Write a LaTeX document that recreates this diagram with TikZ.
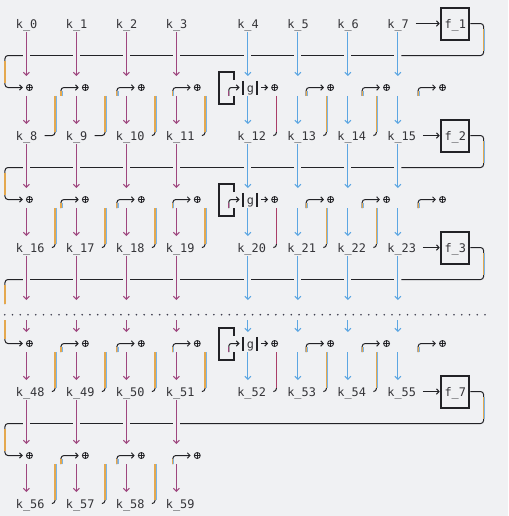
\documentclass[tikz,border=0pt]{standalone}
\usepackage{fontspec}
\setmonofont{DejaVu Sans Mono}
\usetikzlibrary{arrows.meta,calc}
\definecolor{bgc}{RGB}{240,241,243}
\definecolor{ink}{RGB}{34,34,38}
\definecolor{txt}{RGB}{52,52,56}
\definecolor{purp}{RGB}{158,70,126}
\definecolor{blu}{RGB}{92,166,226}
\definecolor{orng}{RGB}{228,168,78}
\definecolor{fblu}{RGB}{120,180,232}
\definecolor{mag}{RGB}{170,62,104}
\definecolor{dotc}{RGB}{62,62,78}
\tikzset{
  lab/.style={font=\ttfamily\fontsize{11.87pt}{16pt}\selectfont, text=txt, inner sep=0pt, anchor=base west},
  thinl/.style={draw=ink, line width=1pt},
  harrow/.style={thinl, -{Straight Barb[length=2.6pt,width=5.4pt]}},
  vdown/.style={line width=1.1pt, -{Straight Barb[length=3pt,width=6pt]}},
  vline/.style={line width=1.1pt},
  heavy/.style={draw=ink, line width=2pt},
  fbox/.style={heavy, minimum width=28.57pt, minimum height=32pt, inner sep=0pt},
  xorop/.style={circle, draw=ink, line width=0.85pt, minimum size=6pt, inner sep=0pt,
    path picture={\draw[ink, line width=0.85pt] (path picture bounding box.north) -- (path picture bounding box.south) (path picture bounding box.west) -- (path picture bounding box.east);}},
  fro/.style={draw=orng, line width=1.15pt},
  frb/.style={draw=fblu, line width=0.6pt},
}
% orange line with a thin blue fringe on its right (or left for \blor)
\newcommand\orbl[3]{\draw[frb] ([xshift=0.9pt]#1,#2) -- ([xshift=0.9pt]#1,#3);\draw[fro] (#1,#2) -- (#1,#3);}
\newcommand\blor[3]{\draw[frb] ([xshift=-0.9pt]#1,#2) -- ([xshift=-0.9pt]#1,#3);\draw[fro] (#1,#2) -- (#1,#3);}
\begin{document}
\begin{tikzpicture}[x=7.143pt,y=-16pt]
\path[use as bounding box, fill=bgc] (-5pt,24pt) rectangle (503pt,-492pt);
% labels
\foreach \r/\s/\n in {0/0/8,7/8/8,14/16/8,23/48/8,30/56/4}{
  \foreach \j/\c in {0/2,1/9,2/16,3/23,4/33,5/40,6/47,7/54}{
    \ifnum\j<\n\relax
      \pgfmathtruncatemacro\idx{\s+\j}
      \node[lab] (k\idx) at (\c-0.5,\r+0.27) {k\_\idx};
    \fi
  }
}
% dotted separator
\foreach \i in {0,...,62}{\fill[dotc] (-0.042+\i*1.08456,18.17) circle (0.9pt);}
% blocks
\foreach \L/\O/\N/\B/\st/\sn/\n/\f/\fs/\e in {0/4/7/0/0/8/8/1/57.5/55.5, 7/11/14/1/8/16/8/2/58.5/55.5, 14/20/23/2/16/48/8/3/58.5/55.5, 23/27/30/3/48/56/4/7/58.5/24.5}{
  \pgfmathsetmacro\H{\L+1.97}
  \pgfmathsetmacro\Q{\O-0.03}
  \node[fbox] (f\f) at (63,\L) {};
  \node[lab] (ft\f) at (61.5,\L+0.27) {f\_\f};
  \coordinate (fa\f) at (\fs,\L-0.03);
  \draw[harrow] (fa\f) -- (fa\f -| f\f.west);
  \coordinate (fr\f) at (67,\H);
  \coordinate (fe\f) at (\e,\H);
  \draw[thinl, rounded corners=3pt] (f\f.east |- fa\f) -| (fr\f) -- (fe\f);
  \orbl{67}{\L+0.3}{\L+1.7}
  \ifnum\n=8 \def\segs{3.5/9.5,10.5/16.5,17.5/23.5,24.5/33.5,34.5/40.5,41.5/47.5,48.5/54.5}\else\def\segs{3.5/9.5,10.5/16.5,17.5/23.5}\fi
  \foreach \a/\b in \segs {\draw[thinl] (\a,\H) -- (\b,\H);}
  \foreach \j/\t/\h in {0/3/0,1/10/7,2/17/14,3/24/21,4/34/28,5/41/38,6/48/45,7/55/52}{
    \ifnum\j<\n\relax
      \pgfmathtruncatemacro\ka{\st+\j}
      \pgfmathtruncatemacro\kb{\sn+\j}
      \ifnum\j<4 \def\vc{purp}\else\def\vc{blu}\fi
      \ifnum\B=2
        \coordinate (ta\ka) at (\t,17.25);
        \coordinate (tb\ka) at (\t,18.5);
        \coordinate (tc\ka) at (\t,19.25);
        \draw[vdown,draw=\vc] (tb\ka) -- (tc\ka);
      \else
        \coordinate (ta\ka) at (\t,\L+3.25);
      \fi
      \draw[vdown,draw=\vc] ($(k\ka.south -| ta\ka)+(0,0.04)$) -- (ta\ka);
      \coordinate (la\kb) at (\t,\O+0.5);
      \coordinate (lb\kb) at (\t,\N-0.75);
      \draw[vdown,draw=\vc] (la\kb) -- (lb\kb);
      \node[xorop] (x\B-\j) at (\t+\j*0.8333+0.4167,\Q) {};
      \ifnum\j=0
        \ifnum\B=2
          \coordinate (lc\B) at (2.5,15.97);
          \coordinate (lm\B) at (0,17.5);
          \coordinate (ln\B) at (0,18.5);
          \draw[thinl, rounded corners=3pt] (lc\B) -| (lm\B);
          \draw[harrow, rounded corners=3pt] (ln\B) |- ([xshift=-3.2pt]x\B-0.west);
          \blor{0}{16.3}{17.5}
          \blor{0}{18.5}{19.7}
        \else
          \coordinate (lc\B) at (2.5,\H);
          \coordinate (lk\B) at (0,\H);
          \draw[harrow, rounded corners=3pt] (lc\B) -- (lk\B) |- ([xshift=-3.2pt]x\B-0.west);
          \blor{0}{\L+2.3}{\O-0.3}
        \fi
      \else
        \pgfmathsetmacro\hs{\h+\j*0.8333}
        \coordinate (hi\B-\j) at (\hs,\O+0.5);
        \ifnum\j=4
          \draw[heavy] (32,\O-0.5) -- (32,\O-1) -- (30,\O-1) -- (30,\O+1) -- (32,\O+1) -- (32,\O+0.5);
          \node[lab] (g\B) at (33.833,\O+0.27) {g};
          \draw[heavy] (33.333,\O-0.45) -- (33.333,\O+0.45);
          \draw[heavy] (35.333,\O-0.45) -- (35.333,\O+0.45);
          \coordinate (gt\B) at (32.833,\Q);
          \draw[harrow, rounded corners=2.5pt] (hi\B-\j) |- (gt\B);
          \coordinate (go\B) at (35.833,\Q);
          \draw[harrow] (go\B) -- ([xshift=-3.2pt]x\B-4.west);
          \draw[vline,draw=purp] (hi\B-\j) -- (\hs,\O+0.2);
        \else
          \draw[harrow, rounded corners=3pt] (hi\B-\j) |- ([xshift=-3.2pt]x\B-\j.west);
          \orbl{\hs}{\O+0.5}{\O+0.2}
        \fi
        \pgfmathtruncatemacro\kc{\sn+\j-1}
        \coordinate (ht\B-\j) at (\h,\O+0.5);
        \coordinate (hb\B-\j) at (\h,\N-0.25);
        \draw[thinl, rounded corners=3pt] ($(k\kc.base east)+(1,-0.3)$) -| (hb\B-\j);
        \ifnum\j=5 \draw[vline,draw=mag] (ht\B-\j) -- (hb\B-\j);\else\orbl{\h}{\O+0.5}{\N-0.25}\fi
      \fi
    \fi
  }
}
\end{tikzpicture}
\end{document}
